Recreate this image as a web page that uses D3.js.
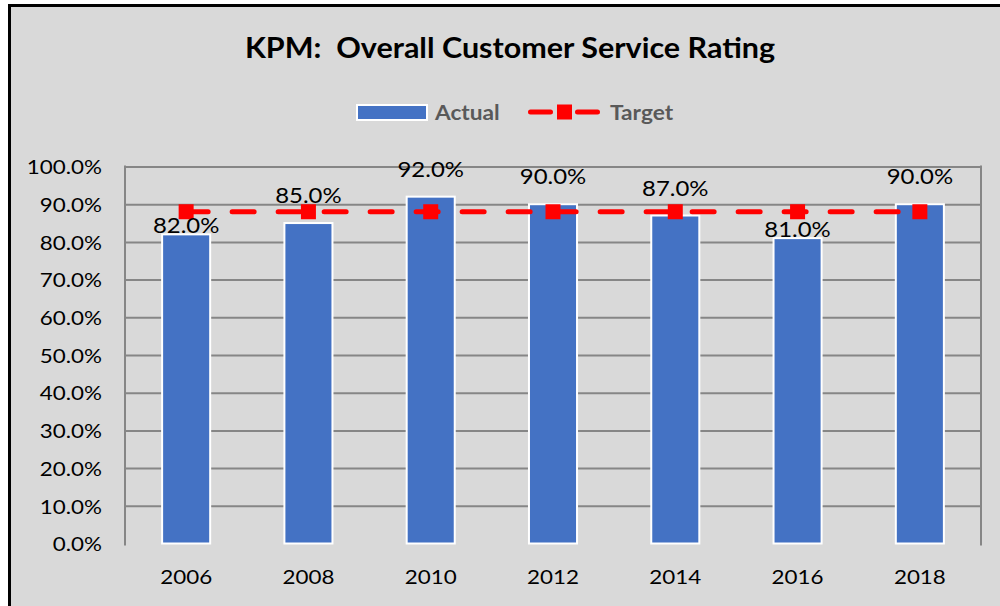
<!DOCTYPE html>
<html>
<head>
<meta charset="utf-8">
<script src="https://cdn.jsdelivr.net/npm/d3@7"></script>
<style>
  body { margin: 0; background: #fff; }
  text { font-family: Lato, "Open Sans", sans-serif; }
</style>
</head>
<body>
<script>
const years = ['2006', '2008', '2010', '2012', '2014', '2016', '2018'];
const actual = [0.82, 0.85, 0.92, 0.90, 0.87, 0.81, 0.90];
const target = [0.88, 0.88, 0.88, 0.88, 0.88, 0.88, 0.88];
const yTicks = [0, 0.1, 0.2, 0.3, 0.4, 0.5, 0.6, 0.7, 0.8, 0.9, 1.0];
const seriesNames = ['Actual', 'Target'];

const svgWidth = 1000;
const svgHeight = 606;
const sx = 1.12; // horizontal stretch of the original rendering

const svg = d3.select('body')
              .append('svg')
              .attr('width', svgWidth)
              .attr('height', svgHeight);

// chart area
svg.append('rect')
   .attr('x', 9.5)
   .attr('y', 5.5)
   .attr('width', 1010)
   .attr('height', 620)
   .attr('fill', '#d9d9d9')
   .attr('stroke', '#000')
   .attr('stroke-width', 3);

const plot = { left: 125, right: 981, top: 166.5, bottom: 543.5 };

const x = d3.scaleBand()
            .domain(years)
            .range([plot.left, plot.right])
            .paddingInner(0.607)
            .paddingOuter(0.3035);

const y = d3.scaleLinear()
            .domain([0, 1])
            .range([plot.bottom, plot.top]);

function stretch(sel, k) {
  sel.each(function () {
    const t = d3.select(this);
    const px = +t.attr('x') || 0;
    t.attr('x', px / k).attr('transform', `scale(${k},1)`);
  });
}

// gridlines (no line at 0)
svg.append('g')
   .attr('transform', `translate(${plot.left},0)`)
   .call(d3.axisLeft(y)
           .tickValues(yTicks.filter(d => d > 0))
           .tickSize(-(plot.right - plot.left))
           .tickFormat(''))
   .call(g => g.select('.domain').remove())
   .call(g => g.selectAll('line').attr('stroke', '#868686').attr('stroke-width', 2));

// axis lines left and right
[plot.left, plot.right].forEach(px => {
  svg.append('line')
     .attr('x1', px).attr('x2', px)
     .attr('y1', plot.top - 1).attr('y2', plot.bottom + 2)
     .attr('stroke', '#868686')
     .attr('stroke-width', 2);
});

// y labels
const yAxis = svg.append('g')
   .attr('transform', `translate(${plot.left},0)`)
   .call(d3.axisLeft(y)
           .tickValues(yTicks)
           .tickSize(0)
           .tickPadding(23)
           .tickFormat(d3.format('.1%')));
yAxis.select('.domain').remove();
yAxis.selectAll('text')
     .attr('font-size', 20)
     .attr('font-family', 'Lato, sans-serif')
     .attr('fill', '#000')
     .attr('dy', '0.36em')
     .call(stretch, sx);

// x labels
const xAxis = svg.append('g')
   .attr('transform', `translate(0,${plot.bottom})`)
   .call(d3.axisBottom(x).tickSize(0).tickPadding(26));
xAxis.select('.domain').remove();
xAxis.selectAll('text')
     .attr('font-size', 20)
     .attr('font-family', 'Lato, sans-serif')
     .attr('fill', '#000')
     .call(stretch, sx);

// bars
svg.selectAll('rect.bar')
   .data(actual)
   .enter()
   .append('rect')
   .attr('class', 'bar')
   .attr('x', (d, i) => x(years[i]))
   .attr('y', d => y(d))
   .attr('width', x.bandwidth())
   .attr('height', d => y(0) - y(d))
   .attr('fill', '#4472c4')
   .attr('stroke', '#fff')
   .attr('stroke-width', 2);

// target line
const cx = (d, i) => x(years[i]) + x.bandwidth() / 2;
const line = d3.line().x(cx).y(d => y(d));
svg.append('path')
   .datum(target)
   .attr('d', line)
   .attr('fill', 'none')
   .attr('stroke', '#ff0000')
   .attr('stroke-width', 5)
   .attr('stroke-linecap', 'round')
   .attr('stroke-dasharray', '22,24');

svg.selectAll('rect.marker')
   .data(target)
   .enter()
   .append('rect')
   .attr('class', 'marker')
   .attr('x', (d, i) => cx(d, i) - 7.5)
   .attr('y', d => y(d) - 7.5)
   .attr('width', 15)
   .attr('height', 15)
   .attr('fill', '#ff0000');

// data labels
svg.selectAll('text.label')
   .data(actual)
   .enter()
   .append('text')
   .attr('class', 'label')
   .attr('text-anchor', 'middle')
   .attr('font-size', 21)
   .attr('fill', '#000')
   .attr('x', (d, i) => cx(d, i))
   .attr('y', (d, i) => {
     const above = y(d) - 20;
     // labels that would sit on the target line are moved down onto the bar
     return above > y(target[i]) ? y(d) - 1.5 : above;
   })
   .text(d => d3.format('.1%')(d))
   .call(stretch, 1.14);

// title
svg.append('text')
   .attr('x', 510)
   .attr('y', 58)
   .attr('text-anchor', 'middle')
   .attr('font-size', 28)
   .attr('font-weight', 'bold')
   .attr('fill', '#000')
   .style('white-space', 'pre')
   .text('KPM:  Overall Customer Service Rating')
   .call(stretch, 1.09);

// legend
const legend = svg.append('g');
legend.append('rect')
      .attr('x', 357).attr('y', 105)
      .attr('width', 70).attr('height', 15)
      .attr('fill', '#4472c4')
      .attr('stroke', '#fff')
      .attr('stroke-width', 2);
legend.append('text')
      .attr('x', 435).attr('y', 120)
      .attr('font-size', 21)
      .attr('font-weight', 'bold')
      .attr('fill', '#595959')
      .text(seriesNames[0])
      .call(stretch, 1.08);
legend.append('line')
      .attr('x1', 530.5).attr('x2', 598.5)
      .attr('y1', 112).attr('y2', 112)
      .attr('stroke', '#ff0000')
      .attr('stroke-width', 5)
      .attr('stroke-linecap', 'round')
      .attr('stroke-dasharray', '20,27');
legend.append('rect')
      .attr('x', 557).attr('y', 104.5)
      .attr('width', 15).attr('height', 15)
      .attr('fill', '#ff0000');
legend.append('text')
      .attr('x', 610).attr('y', 120)
      .attr('font-size', 21)
      .attr('font-weight', 'bold')
      .attr('fill', '#595959')
      .text(seriesNames[1])
      .call(stretch, 1.08);
</script>
</body>
</html>
